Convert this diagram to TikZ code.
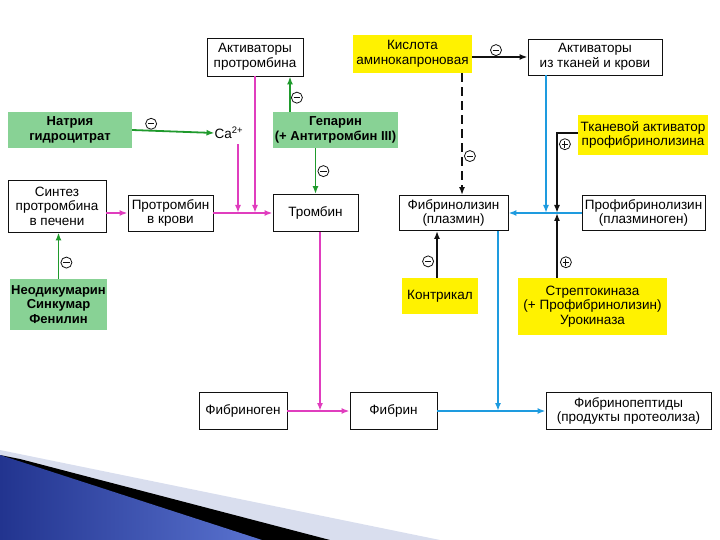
\documentclass[tikz,border=0pt]{standalone}
\usepackage{fontspec}
\setmainfont{Liberation Sans}
\usepackage{tikz}
\usetikzlibrary{arrows.meta,positioning,calc}
\definecolor{ink}{HTML}{111111}
\definecolor{drug}{HTML}{88D295}
\definecolor{yel}{HTML}{FFF200}
\definecolor{leaf}{HTML}{1F9A2C}
\definecolor{rose}{HTML}{E03DBE}
\definecolor{sky}{HTML}{1E9BDF}
\definecolor{slidedeep}{HTML}{22348F}
\definecolor{slidelight}{HTML}{5A73D0}
\definecolor{slidehaze}{HTML}{D9DEEE}
\tikzset{
  >={Latex[length=8pt,width=6pt]},
  txt/.style={font=\fontsize{13.5}{14.5}\selectfont,align=center,inner sep=0pt},
  box/.style={txt,draw=ink,line width=.9pt,fill=white},
  greenbox/.style={txt,fill=drug,font=\bfseries\fontsize{13}{14.5}\selectfont},
  yellowbox/.style={txt,fill=yel},
  coag/.style={->,line width=1.8pt,color=rose},
  block/.style={->,line width=1.8pt,color=leaf},
  lysis/.style={->,line width=1.8pt,color=sky},
  ctrl/.style={->,line width=2pt,color=ink},
  negsign/.style={circle,solid,draw=ink,line width=.8pt,minimum size=11pt,inner sep=0pt,fill=white,
    path picture={\draw[-,solid,ink,line width=.9pt] ([xshift=2.2pt]path picture bounding box.west) -- ([xshift=-2.2pt]path picture bounding box.east);}},
  possign/.style={negsign,
    path picture={\draw[-,solid,ink,line width=.9pt] ([xshift=2.2pt]path picture bounding box.west) -- ([xshift=-2.2pt]path picture bounding box.east)
      ([yshift=-2.2pt]path picture bounding box.north) -- ([yshift=2.2pt]path picture bounding box.south);}},
}

\begin{document}
\begin{tikzpicture}[x=1pt,y=-1pt]
  \useasboundingbox (0,0) rectangle (720,540);

  \fill[slidehaze] (0,450) -- (440,540) -- (0,540) -- cycle;
  \fill[black] (20,459) -- (330,540) -- (0,540) -- (0,455) -- cycle;
  \shade[left color=slidedeep,right color=slidelight] (0,455) -- (262,540) -- (0,540) -- cycle;

  \node[box,minimum width=96,minimum height=38] (aktpro) at (255,57) {Активаторы\\протромбина};
  \node[greenbox,minimum width=124,minimum height=36] (natr) at (70,130) {Натрия\\гидроцитрат};
  \node[txt] (ca) at (229,133) {Ca\textsuperscript{2+}};
  \node[greenbox,minimum width=125,minimum height=36] (gep) at (335.5,130) {Гепарин\\(+ Антитромбин III)};
  \node[box,minimum width=98,minimum height=52] (sint) at (57,206) {Синтез\\протромбина\\в печени};
  \node[box,minimum width=85,minimum height=36] (prot) at (170.5,213) {Протромбин\\в крови};
  \node[box,minimum width=85,minimum height=37] (tromb) at (315.5,213) {Тромбин};
  \node[greenbox,minimum width=97,minimum height=51] (neod) at (58.5,304.5) {Неодикумарин\\Синкумар\\Фенилин};
  \node[box,minimum width=88,minimum height=37] (fgen) at (243,411) {Фибриноген};
  \node[box,minimum width=87,minimum height=37] (fibrin) at (393.5,411) {Фибрин};
  \node[box,minimum width=165,minimum height=37] (fpep) at (628.5,411) {Фибринопептиды\\(продукты протеолиза)};

  \node[yellowbox,minimum width=119,minimum height=38] (kisl) at (412.5,54) {Кислота\\аминокапроновая};
  \node[box,minimum width=134,minimum height=36] (aktt) at (595,57) {Активаторы\\из тканей и крови};
  \node[yellowbox,minimum width=130,minimum height=40] (tkan) at (643,135) {Тканевой активатор\\профибринолизина};
  \node[box,minimum width=109,minimum height=35] (fliz) at (453.5,213) {Фибринолизин\\(плазмин)};
  \node[box,minimum width=123,minimum height=35] (profl) at (643.5,213) {Профибринолизин\\(плазминоген)};
  \node[yellowbox,minimum width=76,minimum height=36] (kontr) at (440,296) {Контрикал};
  \node[yellowbox,minimum width=149,minimum height=57] (strep) at (592.5,306.5) {Стрептокиназа\\(+ Профибринолизин)\\Урокиназа};

  \coordinate (caend) at (238,213);
  \coordinate (jf) at (557,213);
  \coordinate (jb) at (546,213);
  \coordinate (jc) at (498,411);

  \draw[coag] (sint.east |- prot.west) -- (prot.west);
  \draw[coag] (prot.east) -- (tromb.west);
  \draw[coag] (caend |- ca.south) ++(0,5) -- (caend);
  \draw[coag] (aktpro.south) -- (aktpro.south |- tromb.west);
  \draw[coag] ([xshift=4.5]tromb.south) -- ([xshift=4.5]tromb.south |- fibrin.west);
  \draw[coag] (fgen.east) -- (fibrin.west);

  \draw[block] (natr.east) -- node[negsign,pos=.23,above=1pt] {} (ca.west);
  \draw[block] ([xshift=-45.5]gep.north) -- node[negsign,pos=.4,right=1pt] {} ([xshift=-45.5]gep.north |- aktpro.south);
  \draw[block] (tromb.north |- gep.south) -- node[negsign,pos=.5,right=2pt] {} (tromb.north);
  \draw[block] (neod.north) -- node[negsign,pos=.35,right=2pt] {} (neod.north |- sint.south);

  \draw[ctrl] (kisl.east |- aktt.west) -- node[negsign,pos=.43,above=1pt] {} (aktt.west);
  \draw[ctrl,dash pattern=on 9pt off 5pt] ([xshift=8.5]fliz.north |- kisl.south) -- node[negsign,pos=.68,right=2pt] {} ([xshift=8.5]fliz.north);
  \draw[ctrl] ([yshift=2]tkan.west) -| node[possign,pos=.57,right=2pt] {} (jf);
  \draw[ctrl] ([xshift=-3]kontr.north) -- node[negsign,pos=.35,left=3pt] {} ([xshift=-3]kontr.north |- fliz.south);
  \draw[ctrl] (strep.north -| jf) -- node[possign,pos=.24,right=3pt] {} (jf);

  \draw[lysis] (aktt.south -| jb) -- (jb);
  \draw[lysis] (profl.west) -- (fliz.east);
  \draw[lysis] (fliz.south -| jc) -- (jc);
  \draw[lysis] (fibrin.east) -- (fpep.west);
\end{tikzpicture}
\end{document}
